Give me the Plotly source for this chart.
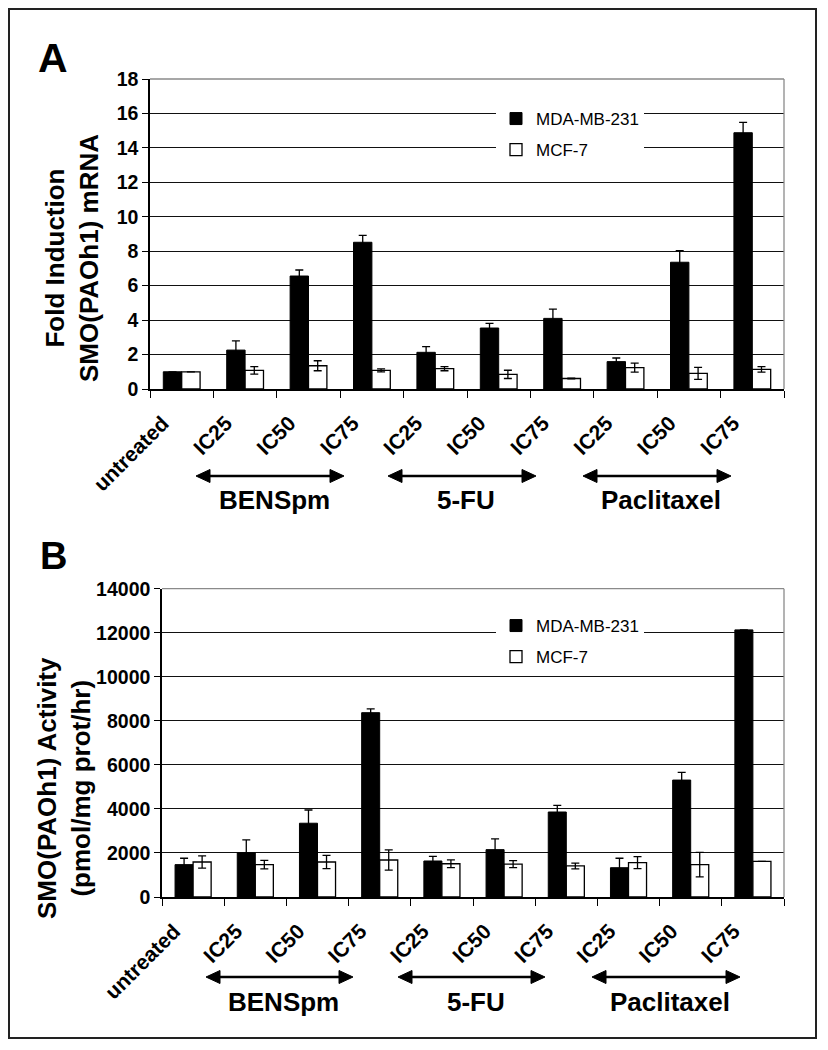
import plotly.graph_objects as go

W, H = 828, 1050
FONT = "Arial, Liberation Sans, Helvetica, sans-serif"

# ---------------- data ----------------
dose_labels = ["untreated", "IC25", "IC50", "IC75", "IC25", "IC50", "IC75", "IC25", "IC50", "IC75"]
drug_of = ["", "BENSpm", "BENSpm", "BENSpm", "5-FU", "5-FU", "5-FU", "Paclitaxel", "Paclitaxel", "Paclitaxel"]
drug_names = ["BENSpm", "5-FU", "Paclitaxel"]
series_names = ["MDA-MB-231", "MCF-7"]

# Panel A: fold induction of SMO(PAOh1) mRNA
mrna_mda = [1.0, 2.26, 6.56, 8.52, 2.13, 3.54, 4.10, 1.59, 7.36, 14.88]
mrna_mda_err = [0.0, 0.54, 0.35, 0.40, 0.33, 0.27, 0.54, 0.21, 0.67, 0.60]
mrna_mcf = [1.0, 1.08, 1.35, 1.08, 1.18, 0.85, 0.61, 1.24, 0.91, 1.14]
mrna_mcf_err = [0.0, 0.22, 0.29, 0.09, 0.12, 0.24, 0.02, 0.26, 0.35, 0.16]

# Panel B: SMO(PAOh1) activity (pmol/mg prot/hr)
act_mda = [1470, 2010, 3350, 8370, 1635, 2150, 3860, 1330, 5310, 12130]
act_mda_err = [290, 580, 600, 170, 210, 490, 300, 430, 350, 0]
act_mcf = [1590, 1470, 1590, 1680, 1510, 1490, 1410, 1560, 1470, 1620]
act_mcf_err = [280, 190, 300, 460, 180, 160, 130, 270, 560, 0]

# unique category keys (display text comes from dose_labels)
keys = [(d + " " + l).strip() for d, l in zip(drug_of, dose_labels)]


def px(x):
    return x / W


def py(y):
    return 1 - y / H


fig = go.Figure()

panels = [
    ("x", "y", "legend", mrna_mda, mrna_mda_err, mrna_mcf, mrna_mcf_err, "a"),
    ("x2", "y2", "legend2", act_mda, act_mda_err, act_mcf, act_mcf_err, "b"),
]
for xa, ya, leg, mda, mda_e, mcf, mcf_e, tag in panels:
    fig.add_trace(go.Bar(
        x=keys, y=mda, name=series_names[0], xaxis=xa, yaxis=ya, legend=leg,
        legendgroup=tag + "1",
        marker=dict(color="black", line=dict(color="black", width=1)),
        error_y=dict(type="data", array=mda_e, color="black", thickness=1.3, width=4),
    ))
    fig.add_trace(go.Bar(
        x=keys, y=mcf, name=series_names[1], xaxis=xa, yaxis=ya, legend=leg,
        legendgroup=tag + "2",
        marker=dict(color="white", line=dict(color="black", width=1.3)),
        error_y=dict(type="data", array=mcf_e, color="black", thickness=1.3, width=4),
    ))

xcommon = dict(
    type="category", tickson="boundaries", ticks="outside", ticklen=7, tickcolor="black",
    tickwidth=1.3, showline=True, linecolor="black", linewidth=1.5, tickangle=-45,
    tickmode="array", tickvals=keys, ticktext=dose_labels, automargin=False,
    ticklabelstandoff=12, ticklabelshift=-19,
    tickfont=dict(family=FONT, size=21, color="black", weight="bold"),
    showgrid=False, zeroline=False, range=[-0.5, 9.5],
)
ycommon = dict(
    showgrid=True, gridcolor="#111111", gridwidth=1.2, showline=True, linecolor="black",
    linewidth=1.5, ticks="outside", ticklen=6, tickcolor="black", tickwidth=1.3,
    tickformat="d", automargin=False,
    tickfont=dict(family=FONT, size=19.5, color="black", weight="bold"), zeroline=False,
)

# plot-area pixel boxes
A = dict(l=150, r=784, t=79, b=389)
B = dict(l=162, r=784, t=588.7, b=897)

fig.update_layout(
    width=W, height=H, margin=dict(l=0, r=0, t=0, b=0, pad=0), autosize=False,
    paper_bgcolor="white", plot_bgcolor="white",
    barmode="group", bargap=0.42, bargroupgap=0,
    showlegend=True,
    xaxis=dict(domain=[px(A["l"]), px(A["r"])], anchor="y", **xcommon),
    yaxis=dict(domain=[py(A["b"]), py(A["t"])], anchor="x", range=[0, 18], dtick=2, **ycommon),
    xaxis2=dict(domain=[px(B["l"]), px(B["r"])], anchor="y2", **xcommon),
    yaxis2=dict(domain=[py(B["b"]), py(B["t"])], anchor="x2", range=[0, 14000], dtick=2000, **ycommon),
    legend=dict(x=px(496), y=py(101), xanchor="left", yanchor="top", bgcolor="white",
                font=dict(family=FONT, size=17, color="black"), tracegroupgap=6,
                itemclick=False, itemdoubleclick=False),
    legend2=dict(x=px(496), y=py(608), xanchor="left", yanchor="top", bgcolor="white",
                 font=dict(family=FONT, size=17, color="black"), tracegroupgap=6,
                 itemclick=False, itemdoubleclick=False),
)

shapes = []
# outer frame
shapes.append(dict(type="rect", xref="paper", yref="paper", x0=px(9), x1=px(816), y0=py(9), y1=py(1038),
                   line=dict(color="#222", width=2)))
# gray top/right plot borders
for P in (A, B):
    shapes.append(dict(type="line", xref="paper", yref="paper", x0=px(P["l"]), x1=px(P["r"]),
                       y0=py(P["t"]), y1=py(P["t"]), line=dict(color="#8a8a8a", width=1.3), layer="above"))
    shapes.append(dict(type="line", xref="paper", yref="paper", x0=px(P["r"]), x1=px(P["r"]),
                       y0=py(P["t"]), y1=py(P["b"]), line=dict(color="#8a8a8a", width=1.3), layer="above"))

# double-headed arrows and drug labels
arrowsA = [(196, 344), (388, 536), (583, 731)]
arrowsB = [(206, 353), (398, 545), (592, 740)]
annotations = []
for arrows, ay, ty, in ((arrowsA, 476, 500), (arrowsB, 977, 1002)):
    for (x1, x2), name in zip(arrows, drug_names):
        hl, hw = 14, 6.5
        shapes.append(dict(type="line", xref="paper", yref="paper", x0=px(x1 + hl - 1), x1=px(x2 - hl + 1),
                           y0=py(ay), y1=py(ay), line=dict(color="black", width=2.5)))
        for tip, base in ((x1, x1 + hl), (x2, x2 - hl)):
            path = "M {} {} L {} {} L {} {} Z".format(px(tip), py(ay), px(base), py(ay - hw), px(base), py(ay + hw))
            shapes.append(dict(type="path", xref="paper", yref="paper", path=path,
                               fillcolor="black", line=dict(color="black", width=1)))
        annotations.append(dict(xref="paper", yref="paper", x=px((x1 + x2) / 2 + 4), y=py(ty), text=name,
                                showarrow=False, xanchor="center", yanchor="middle",
                                font=dict(family=FONT, size=26, color="black", weight="bold")))

# panel letters
annotations.append(dict(xref="paper", yref="paper", x=px(53), y=py(58), text="A", showarrow=False,
                        xanchor="center", yanchor="middle",
                        font=dict(family=FONT, size=41, color="black", weight="bold")))
annotations.append(dict(xref="paper", yref="paper", x=px(53), y=py(556), text="B", showarrow=False,
                        xanchor="center", yanchor="middle",
                        font=dict(family=FONT, size=38, color="black", weight="bold")))
# y-axis titles
annotations.append(dict(xref="paper", yref="paper", x=px(72), y=py(258), text="Fold Induction<br>SMO(PAOh1) mRNA",
                        showarrow=False, textangle=-90, xanchor="center", yanchor="middle",
                        font=dict(family=FONT, size=26, color="black", weight="bold")))
annotations.append(dict(xref="paper", yref="paper", x=px(64), y=py(788),
                        text="SMO(PAOh1) Activity<br>(pmol/mg prot/hr)",
                        showarrow=False, textangle=-90, xanchor="center", yanchor="middle",
                        font=dict(family=FONT, size=26, color="black", weight="bold")))

fig.update_layout(shapes=shapes, annotations=annotations)
fig.write_html("out.html", post_script="document.body.style.margin='0';",
               config={"displayModeBar": False})
